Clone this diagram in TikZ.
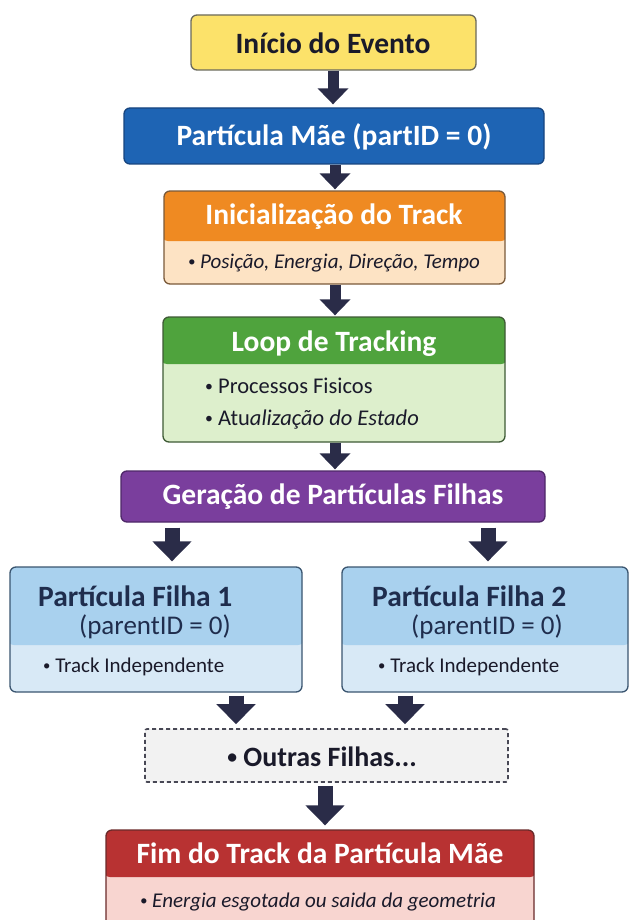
\documentclass[tikz,border=0pt]{standalone}
\usepackage{fontspec}
\usepackage{graphicx}
\setmainfont{Carlito}
\usetikzlibrary{arrows.meta}
\newcommand{\bul}{\raisebox{0.1em}{\scalebox{0.7}{•}}}
\definecolor{arrowc}{HTML}{2A2C48}
\definecolor{yelf}{HTML}{FCE26A}
\definecolor{yeld}{HTML}{6B6A5C}
\definecolor{bluef}{HTML}{1E64B4}
\definecolor{blued}{HTML}{17457F}
\definecolor{orah}{HTML}{EF8A22}
\definecolor{orab}{HTML}{FDE3C4}
\definecolor{orad}{HTML}{7A5A3A}
\definecolor{greh}{HTML}{4FA33D}
\definecolor{greb}{HTML}{DDEFCC}
\definecolor{gred}{HTML}{3E5A35}
\definecolor{purf}{HTML}{7A3E9D}
\definecolor{purd}{HTML}{4E2768}
\definecolor{lbh}{HTML}{A9D1EE}
\definecolor{lbb}{HTML}{D8E9F6}
\definecolor{lbd}{HTML}{3A5570}
\definecolor{redh}{HTML}{B83232}
\definecolor{redb}{HTML}{F8D5D0}
\definecolor{redd}{HTML}{6A2A2A}
\definecolor{navyt}{HTML}{1F2D4D}
\definecolor{darkt}{HTML}{1A1A2A}
\definecolor{grayf}{HTML}{F2F2F2}
\tikzset{
  box/.style={draw=#1, line width=1.3pt, rounded corners=6pt, inner sep=0pt},
  hdr/.style 2 args={path picture={\fill[#1] ([xshift=-2pt,yshift=2pt]path picture bounding box.north west) rectangle ([xshift=2pt,yshift=-#2]path picture bounding box.north east);}},
  ttl/.style={font=\fontsize{29.5}{34}\selectfont\bfseries, inner sep=0pt},
  bod/.style={font=\fontsize{21}{25}\selectfont, inner sep=0pt, text=darkt},
  arr/.style={draw=arrowc, line width=11pt, -{Triangle[width=30pt,length=16pt]}},
  bigarr/.style={draw=arrowc, line width=15pt, -{Triangle[width=38pt,length=20pt]}},
}
\begin{document}
\begin{tikzpicture}[x=1pt,y=1pt]
\useasboundingbox (0,0) rectangle (630,-920);
\fill[white] (0,0) rectangle (630,-920);
\clip (0,0) rectangle (630,-920);

% boxes
\node[box=yeld, fill=yelf, minimum width=285pt, minimum height=55pt] (b1) at (333.5,-42.5) {};
\node[box=blued, fill=bluef, minimum width=420pt, minimum height=56pt] (b2) at (334,-136) {};
\node[box=orad, fill=orab, hdr={orah}{50pt}, minimum width=341pt, minimum height=93pt] (b3) at (334.5,-237.5) {};
\node[box=gred, fill=greb, hdr={greh}{47pt}, minimum width=342pt, minimum height=125pt] (b4) at (334,-379.5) {};
\node[box=purd, fill=purf, minimum width=424pt, minimum height=51pt] (b5) at (333,-496.5) {};
\node[box=lbd, fill=lbb, hdr={lbh}{78pt}, minimum width=292pt, minimum height=125pt] (f1) at (156,-629.5) {};
\node[box=lbd, fill=lbb, hdr={lbh}{78pt}, minimum width=286pt, minimum height=125pt] (f2) at (485,-629.5) {};
\node[draw=darkt!80, line width=1.6pt, dash pattern=on 4pt off 3pt, rounded corners=2pt, fill=grayf, minimum width=363pt, minimum height=53pt] (b7) at (326.5,-755.5) {};
\node[box=redd, fill=redb, hdr={redh}{47pt}, minimum width=428pt, minimum height=120pt] (b8) at (320,-890) {};

% texts
\node[ttl, text=darkt] (t1) at (333,-43) {Início do Evento};
\node[ttl, text=white] (t2) at (334,-137) {Partícula Mãe (partID = 0)};
\node[ttl, text=white] (t3) at (334,-217) {Inicialização do Track};
\node[bod, font=\fontsize{21}{25}\selectfont\itshape] (t3b) at (334,-263) {\bul\ Posição, Energia, Direção, Tempo};
\node[ttl, text=white] (t4) at (334,-344) {Loop de Tracking};
\node[bod, font=\fontsize{22.5}{26}\selectfont, anchor=west] (t4a) at (205,-386) {\bul\ Processos Fisicos};
\node[bod, font=\fontsize{22.5}{26}\selectfont, anchor=west] (t4b) at (205,-420) {\bul\ Atu\textit{alização do Estado}};
\node[ttl, text=white] (t5) at (333,-497) {Geração de Partículas Filhas};
\node[ttl, text=navyt, anchor=west] (f1t) at (38,-596) {Partícula Filha 1};
\node[bod, font=\fontsize{27}{31}\selectfont, text=navyt] (f1p) at (155,-627) {(parentID = 0)};
\node[bod, anchor=west] (f1b) at (43,-667) {\bul\ Track Independente};
\node[ttl, text=navyt, anchor=west] (f2t) at (372,-596) {Partícula Filha 2};
\node[bod, font=\fontsize{27}{31}\selectfont, text=navyt] (f2p) at (487,-627) {(parentID = 0)};
\node[bod, anchor=west] (f2b) at (378,-667) {\bul\ Track Independente};
\node[ttl, font=\fontsize{28}{32}\selectfont\bfseries, text=darkt] (t7) at (322,-757) {\bul\ Outras Filhas...};
\node[ttl, text=white] (t8) at (320,-853) {Fim do Track da Partícula Mãe};
\node[bod, font=\fontsize{21}{25}\selectfont\itshape] (t8b) at (318,-902) {\bul\ Energia esgotada ou saida da geometria};

% arrows
\draw[arr, shorten >=3pt] (b1.south -| 333,0) -- (b2.north -| 333,0);
\draw[arr, shorten <=0pt, shorten >=1pt] (b2.south -| 335,0) -- (b3.north -| 335,0);
\draw[arr, shorten >=1pt] (b3.south -| 335,0) -- (b4.north -| 335,0);
\draw[arr, shorten >=1pt] (b4.south -| 335,0) -- (b5.north -| 335,0);
\draw[bigarr, shorten <=5pt, shorten >=5pt] (b5.south -| 172,0) -- (f1.north -| 172,0);
\draw[bigarr, shorten <=5pt, shorten >=5pt] (b5.south -| 488,0) -- (f2.north -| 488,0);
\draw[bigarr, shorten <=3pt, shorten >=4pt] (f1.south -| 236,0) -- (b7.north -| 236,0);
\draw[bigarr, shorten <=3pt, shorten >=4pt] (f2.south -| 405,0) -- (b7.north -| 405,0);
\draw[bigarr, shorten <=3pt, shorten >=4pt] (b7.south -| 325,0) -- (b8.north -| 325,0);
\end{tikzpicture}
\end{document}
